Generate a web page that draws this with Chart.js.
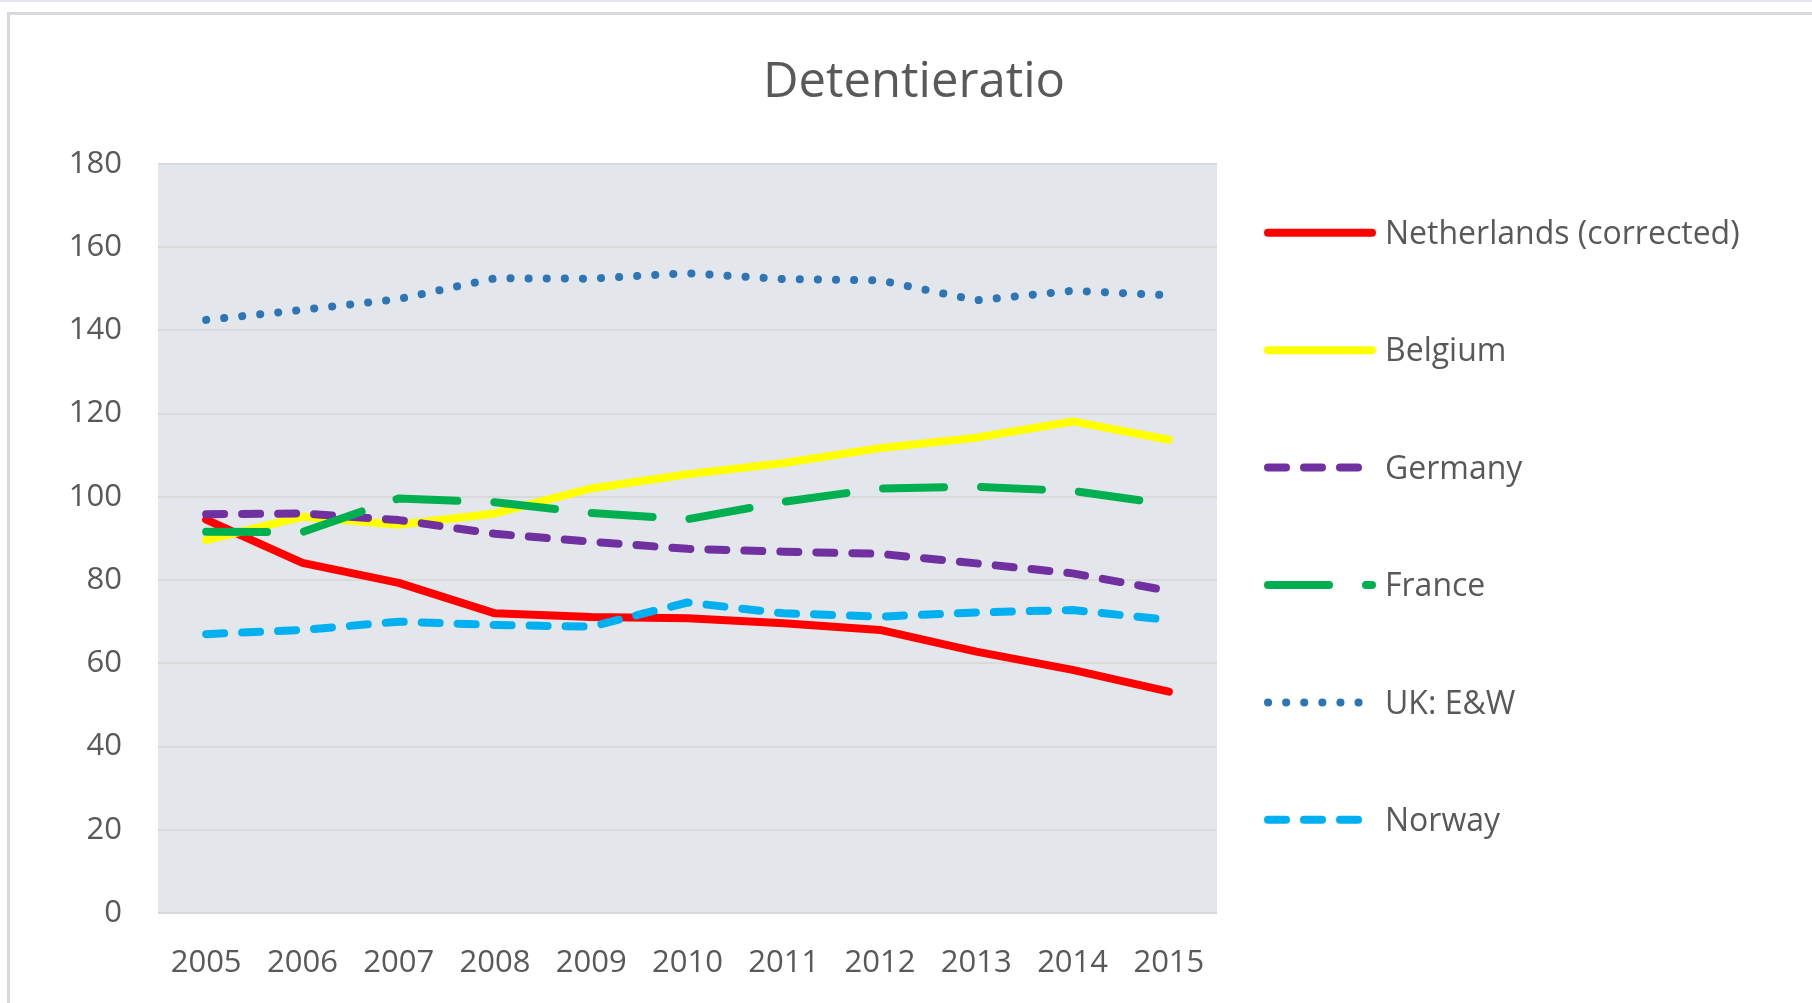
<!DOCTYPE html>
<html lang="en">
<head>
    <meta charset="UTF-8">
    <title>Detentieratio</title>
    <script src="https://cdn.jsdelivr.net/npm/chart.js"></script>
    <style>
        html, body { margin: 0; padding: 0; background: #fff; overflow: hidden; }
        .topline { position: absolute; left: 0; top: 0; width: 1812px; height: 2px; background: #e4e4f0; }
        .frame { position: absolute; left: 7px; top: 12px; width: 1900px; height: 1100px;
                 border-left: 3px solid #d9d9d9; border-top: 3px solid #d9d9d9; }
        .chart-box { position: absolute; left: 0; top: 0; width: 1812px; height: 1003px; }
    </style>
</head>
<body>
    <div class="topline"></div>
    <div class="frame"></div>
    <div class="chart-box">
        <canvas id="chart" width="1812" height="1003"></canvas>
    </div>

    <script>
        // Data
        const years = ['2005', '2006', '2007', '2008', '2009', '2010', '2011', '2012', '2013', '2014', '2015'];
        const netherlands = [94.5, 84.1, 79.3, 72.0, 71.1, 70.8, 69.6, 68.0, 62.8, 58.4, 53.2];
        const belgium = [89.6, 95.2, 93.3, 96.0, 102.0, 105.4, 108.1, 111.7, 114.2, 118.1, 113.7];
        const germany = [95.8, 96.0, 94.4, 91.1, 89.2, 87.5, 86.8, 86.3, 84.0, 81.6, 77.4];
        const france = [91.6, 91.5, 99.6, 98.7, 96.1, 94.6, 98.8, 102.0, 102.4, 101.4, 98.2];
        const ukEW = [142.5, 144.9, 147.5, 152.5, 152.4, 153.7, 152.3, 152.0, 147.2, 149.5, 148.4];
        const norway = [67.0, 68.0, 70.0, 69.2, 68.8, 74.6, 72.0, 71.2, 72.2, 72.8, 70.4];
        const yTicks = [0, 20, 40, 60, 80, 100, 120, 140, 160, 180];

        const textColor = '#595959';
        Chart.defaults.font.family = "'Open Sans', sans-serif";
        Chart.defaults.color = textColor;

        function series(label, data, color, dash, idx) {
            return {
                label: label,
                data: data,
                borderColor: color,
                backgroundColor: color,
                borderWidth: 8,
                borderDash: dash,
                borderCapStyle: 'round',
                borderJoinStyle: 'round',
                pointRadius: 0,
                pointHoverRadius: 0,
                tension: 0,
                fill: false,
                order: 6 - idx   // later series on top, like the original
            };
        }

        const datasets = [
            series('Netherlands (corrected)', netherlands, '#ff0000', [], 0),
            series('Belgium', belgium, '#ffff00', [], 1),
            series('Germany', germany, '#7030a0', [18, 18], 2),
            series('France', france, '#00b050', [61, 37], 3),
            series('UK: E&W', ukEW, '#2e75b6', [0.1, 18], 4),
            series('Norway', norway, '#00b0f0', [18, 18], 5)
        ];

        // grey plot background
        const plotBackground = {
            id: 'plotBackground',
            beforeDraw(chart) {
                const a = chart.chartArea;
                const ctx = chart.ctx;
                ctx.save();
                ctx.fillStyle = '#e3e6eb';
                ctx.fillRect(a.left, a.top, a.right - a.left, a.bottom - a.top);
                ctx.restore();
            }
        };

        // legend on the right, one item per row with wide spacing
        const sideLegend = {
            id: 'sideLegend',
            afterDraw(chart) {
                const a = chart.chartArea;
                const ctx = chart.ctx;
                const x0 = a.right + 51;
                const len = 104;
                ctx.save();
                chart.data.datasets.forEach((ds, i) => {
                    const y = a.top + 69 + i * 117.4;
                    ctx.beginPath();
                    ctx.strokeStyle = ds.borderColor;
                    ctx.lineWidth = ds.borderWidth;
                    ctx.lineCap = 'round';
                    ctx.setLineDash(ds.borderDash);
                    ctx.moveTo(x0, y);
                    ctx.lineTo(x0 + len, y);
                    ctx.stroke();
                    ctx.setLineDash([]);
                    ctx.fillStyle = textColor;
                    ctx.font = "32px 'Open Sans', sans-serif";
                    ctx.textAlign = 'left';
                    ctx.textBaseline = 'middle';
                    ctx.fillText(ds.label, x0 + len + 13, y + 2);
                });
                ctx.restore();
            }
        };

        new Chart(document.getElementById('chart'), {
            type: 'line',
            data: { labels: years, datasets: datasets },
            plugins: [plotBackground, sideLegend],
            options: {
                responsive: false,
                animation: false,
                layout: { padding: { left: 16, right: 0, top: 0, bottom: 0 } },
                plugins: {
                    legend: { display: false },
                    tooltip: { enabled: false },
                    title: {
                        display: true,
                        text: 'Detentieratio',
                        color: textColor,
                        font: { size: 49, weight: 'normal' },
                        padding: { top: 54, bottom: 51 }
                    }
                },
                scales: {
                    x: {
                        type: 'category',
                        offset: true,
                        grid: { display: false },
                        border: { display: false },
                        ticks: { font: { size: 31 }, color: textColor, padding: 24, maxRotation: 0 },
                        afterFit(scale) { scale.height = 90; }
                    },
                    y: {
                        min: 0,
                        max: 180,
                        afterBuildTicks(scale) { scale.ticks = yTicks.map(v => ({ value: v })); },
                        grid: { color: '#d9d9d9', lineWidth: 2, drawTicks: false },
                        border: { display: false },
                        ticks: { font: { size: 31 }, color: textColor, padding: 36 },
                        afterFit(scale) { scale.width = 142; }
                    },
                    // empty axis that only reserves room for the legend
                    spacer: {
                        position: 'right',
                        grid: { display: false },
                        border: { display: false },
                        ticks: { display: false },
                        afterFit(scale) { scale.width = 595; }
                    }
                }
            }
        });
    </script>
</body>
</html>
